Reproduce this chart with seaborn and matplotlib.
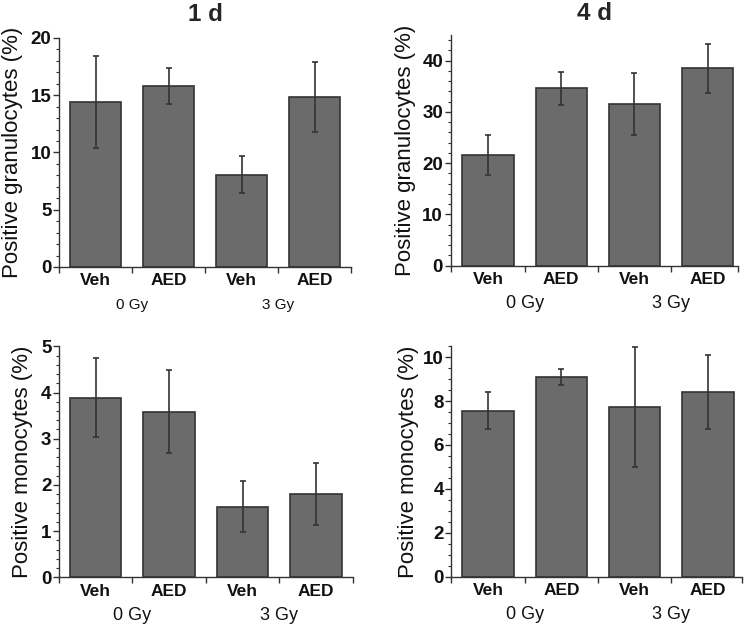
import numpy as np
import pandas as pd
import matplotlib
matplotlib.use("Agg")
import matplotlib.pyplot as plt
import matplotlib.transforms as mtransforms
from matplotlib.ticker import MultipleLocator, FixedLocator
import seaborn as sns

sns.set_theme(style="ticks")
plt.rcParams['font.family'] = ['Liberation Sans', 'DejaVu Sans']

# ---- data ----
treatments = ["Veh", "AED", "Veh", "AED"]
doses = ["0 Gy", "3 Gy"]
gran_1d = [14.4, 15.8, 8.05, 14.85]
gran_1d_sd = [4.05, 1.6, 1.62, 3.05]
gran_4d = [21.6, 34.6, 31.5, 38.5]
gran_4d_sd = [3.9, 3.25, 6.05, 4.8]
mono_1d = [3.89, 3.58, 1.53, 1.81]
mono_1d_sd = [0.86, 0.9, 0.55, 0.67]
mono_4d = [7.57, 9.10, 7.74, 8.42]
mono_4d_sd = [0.85, 0.38, 2.72, 1.68]

BAR = "#6b6b6b"
EDGE = "#333333"
DARK = "#333333"

fig = plt.figure(figsize=(7.47, 6.26), dpi=100)

panels = [
    dict(rect=[0.0790, 0.5735, 0.3909, 0.3658], vals=gran_1d, sd=gran_1d_sd,
         ylim=(0, 20), major=5, minor=1, xlim=(-0.5, 3.5),
         ylabel="Positive granulocytes (%)", ylx=-0.16, title="1 d", tpad=12,
         gfs=11),
    dict(rect=[0.6033, 0.5756, 0.3842, 0.3685], vals=gran_4d, sd=gran_4d_sd,
         ylim=(0, 45), major=10, minor=2, xlim=(-0.51, 3.41),
         ylabel="Positive granulocytes (%)", ylx=-0.157, title="4 d", tpad=10.5,
         gfs=13),
    dict(rect=[0.0790, 0.0778, 0.3932, 0.3690], vals=mono_1d, sd=mono_1d_sd,
         ylim=(0, 5), major=1, minor=0.2, xlim=(-0.5, 3.5),
         ylabel="Positive monocytes (%)", ylx=-0.126, title=None, tpad=0,
         gfs=13),
    dict(rect=[0.6042, 0.0788, 0.3888, 0.3681], vals=mono_4d, sd=mono_4d_sd,
         ylim=(0, 10.5), major=2, minor=0.5, xlim=(-0.5, 3.46),
         ylabel="Positive monocytes (%)", ylx=-0.149, title=None, tpad=0,
         gfs=13),
]

for p in panels:
    ax = fig.add_axes(p["rect"])
    df = pd.DataFrame({"pos": [f"{d} {t}" for d, t in zip([doses[0]] * 2 + [doses[1]] * 2, treatments)],
                       "value": p["vals"]})
    sns.barplot(data=df, x="pos", y="value", ax=ax, color=BAR, saturation=1,
                width=0.7, edgecolor=EDGE, linewidth=1.2, errorbar=None)
    ax.errorbar(np.arange(len(p["vals"])), p["vals"], yerr=p["sd"], fmt="none",
                ecolor=DARK, elinewidth=1.2, capsize=2.2, capthick=1.2, zorder=5)
    ax.set_xlim(*p["xlim"])
    ax.set_ylim(*p["ylim"])
    ax.yaxis.set_major_locator(MultipleLocator(p["major"]))
    ax.yaxis.set_minor_locator(MultipleLocator(p["minor"]))
    ax.set_xticks(range(4))
    ax.set_xticklabels(treatments, fontsize=12.5, fontweight="bold", color="#111111")
    ax.xaxis.set_minor_locator(FixedLocator([-0.5, 0.5, 1.5, 2.5, p["xlim"][1]]))
    ax.tick_params(axis="x", which="major", length=0, pad=4.5)
    ax.tick_params(axis="x", which="minor", length=4, width=1, color=DARK, direction="out")
    ax.tick_params(axis="y", which="major", length=4, width=1, color=DARK,
                   labelsize=13.5, pad=1.5)
    ax.tick_params(axis="y", which="minor", length=2.5, width=0.8, color=DARK)
    for lab in ax.get_yticklabels():
        lab.set_fontweight("bold")
        lab.set_color("#111111")
    for s in ["top", "right"]:
        ax.spines[s].set_visible(False)
    for s in ["left", "bottom"]:
        ax.spines[s].set_color(DARK)
        ax.spines[s].set_linewidth(1.0)
    ax.set_xlabel("")
    ax.set_ylabel(p["ylabel"], fontsize=16, va="center", color="#111111")
    ax.yaxis.set_label_coords(p["ylx"], 0.5)
    if p["title"]:
        ax.set_title(p["title"], fontsize=17.5, fontweight="bold", pad=p["tpad"])
    trans = mtransforms.offset_copy(ax.get_xaxis_transform(), fig=fig, x=0, y=-38, units="dots")
    for xg, d in zip([0.5, 2.5], doses):
        ax.text(xg, 0, d, transform=trans, ha="center", va="center",
                fontsize=p["gfs"], color="#111111")

fig.savefig("out.png", dpi=100)
